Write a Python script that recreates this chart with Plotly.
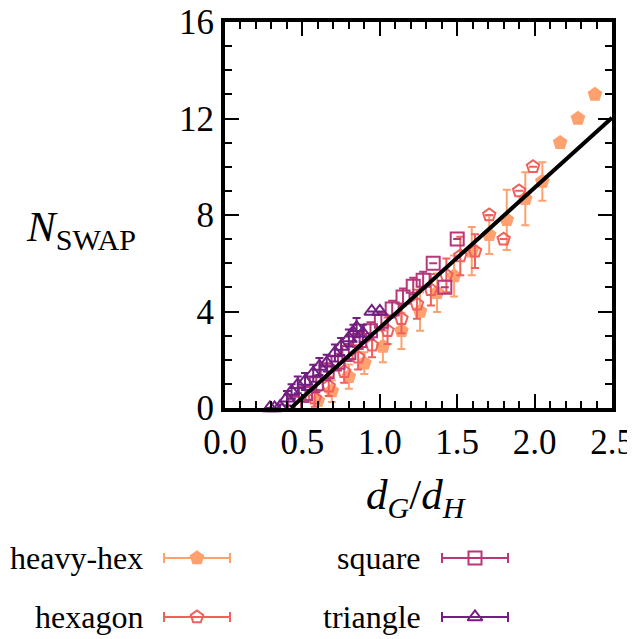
import plotly.graph_objects as go

# ---------------- data ----------------
hh_x = [0.60, 0.69, 0.80, 0.90, 1.02, 1.14, 1.26, 1.37, 1.48, 1.594, 1.707, 1.82, 1.94, 2.05, 2.165, 2.28, 2.39]
hh_y = [0.3, 0.7, 1.3, 1.86, 2.55, 3.2, 4.0, 4.78, 5.47, 6.5, 7.18, 7.8, 8.67, 9.39, 11.0, 12.0, 13.0]
hh_e = [0.4, 0.45, 0.5, 0.45, 0.65, 0.75, 0.8, 0.8, 0.85, 1.0, 0.8, 1.25, 1.1, 0.8, 0.0, 0.0, 0.0]

hx_x = [0.58, 0.67, 0.77, 0.86, 0.95, 1.05, 1.14, 1.24, 1.33, 1.43, 1.52, 1.615, 1.707, 1.80, 1.90, 1.99]
hx_y = [0.4, 0.9, 1.5, 2.1, 2.6, 3.2, 3.7, 4.3, 4.9, 5.5, 6.3, 6.5, 8.0, 7.0, 9.0, 10.0]
hx_e = [0.35, 0.4, 0.45, 0.5, 0.5, 0.55, 0.6, 0.6, 0.65, 0.7, 0.8, 0.7, 0.0, 0.0, 0.0, 0.0]

sq_x = [0.45, 0.52, 0.59, 0.66, 0.73, 0.80, 0.87, 0.94, 1.01, 1.08, 1.15, 1.216, 1.28, 1.345, 1.42, 1.50]
sq_y = [0.2, 0.6, 1.0, 1.5, 1.9, 2.3, 2.8, 3.2, 3.6, 4.1, 4.6, 5.05, 5.3, 6.0, 5.0, 7.0]
sq_e = [0.3, 0.35, 0.35, 0.35, 0.35, 0.35, 0.35, 0.35, 0.35, 0.35, 0.35, 0.35, 0.35, 0.0, 0.0, 0.0]

tr_x = [0.29, 0.32, 0.355, 0.40, 0.43, 0.47, 0.517, 0.57, 0.61, 0.657, 0.71, 0.75, 0.80, 0.83, 0.85, 0.89, 0.948, 1.00]
tr_y = [0.0, 0.0, 0.05, 0.4, 0.68, 0.96, 1.1, 1.44, 1.72, 1.86, 2.28, 2.55, 2.9, 3.1, 3.33, 3.1, 4.0, 4.0]
tr_e = [0.0, 0.0, 0.1, 0.3, 0.3, 0.35, 0.35, 0.35, 0.35, 0.35, 0.35, 0.35, 0.35, 0.35, 0.4, 0.35, 0.0, 0.0]

fit_x0 = 0.426      # x-intercept of the fitted line
fit_slope = 5.80    # slope of the fitted line
x_max = 2.5

x_ticks = [0.0, 0.5, 1.0, 1.5, 2.0, 2.5]
x_ticktext = ["0.0", "0.5", "1.0", "1.5", "2.0", "2.5"]
y_ticks = [0, 4, 8, 12, 16]
y_ticktext = ["0", "4", "8", "12", "16"]

names = ["heavy-hex", "hexagon", "square", "triangle"]
colors = ["#fea16e", "#f1605d", "#b73779", "#721f81"]
symbols = ["pentagon", "pentagon-open", "square-open", "triangle-up-open"]

# ---------------- figure ----------------
PAGE_W, PAGE_H = 635, 639
OFF = 8                       # default body margin of the html page
W, H = PAGE_W, PAGE_H - OFF
FONT = "Liberation Serif"


def px(x):
    return (x - OFF) / W


def py(y):
    return 1 - (y - OFF) / H


fig = go.Figure()
series = [(hh_x, hh_y, hh_e), (hx_x, hx_y, hx_e), (sq_x, sq_y, sq_e), (tr_x, tr_y, tr_e)]
for (xs, ys, es), name, col, sym in zip(series, names, colors, symbols):
    fig.add_trace(go.Scatter(
        x=xs, y=ys, mode="markers", name=name, showlegend=False, cliponaxis=False,
        error_y=dict(type="data", array=es, color=col, thickness=2, width=4),
        marker=dict(symbol=sym, size=13, color=col, line=dict(color=col, width=2)),
    ))

fig.add_trace(go.Scatter(
    x=[fit_x0, x_max], y=[0, fit_slope * (x_max - fit_x0)], mode="lines",
    line=dict(color="black", width=4), showlegend=False, cliponaxis=True,
))

# custom legend (text on the left of the sample), in page-pixel coordinates on a hidden full-figure axis
leg_rows = [558, 617]
leg_cols = [(145, 197), (423, 475)]
half_len = 33
for i, (name, col, sym) in enumerate(zip(names, colors, symbols)):
    c = i // 2
    r = i % 2
    tx, mx = leg_cols[c]
    ly = leg_rows[r]
    fig.add_trace(go.Scatter(
        x=[mx], y=[ly], mode="markers", xaxis="x2", yaxis="y2", showlegend=False,
        error_x=dict(type="constant", value=half_len, color=col, thickness=2, width=5),
        marker=dict(symbol=sym, size=13, color=col, line=dict(color=col, width=2)),
    ))
    fig.add_annotation(x=tx, y=ly, xref="x2", yref="y2", text=name, showarrow=False,
                       xanchor="right", yanchor="middle", font=dict(family=FONT, size=32, color="black"))

axis_common = dict(
    showline=True, linewidth=4, linecolor="black", mirror="allticks",
    ticks="inside", ticklen=14, tickwidth=2, tickcolor="black",
    showgrid=False, zeroline=False, automargin=False, ticklabeloverflow="allow",
    tickfont=dict(family=FONT, size=35, color="black"),
)

fig.update_layout(
    width=W, height=H, margin=dict(l=0, r=0, t=0, b=0, pad=0),
    paper_bgcolor="white", plot_bgcolor="rgba(0,0,0,0)",
    xaxis=dict(range=[0, x_max], domain=[px(225), px(612)], tickvals=x_ticks, ticktext=x_ticktext,
               anchor="y",
               minor=dict(dtick=0.1, tick0=0, ticks="inside", ticklen=7, tickwidth=2, tickcolor="black"),
               **axis_common),
    yaxis=dict(range=[0, 16], domain=[py(408), py(22)], tickvals=y_ticks, ticktext=y_ticktext,
               anchor="x",
               minor=dict(dtick=1, tick0=0, ticks="inside", ticklen=7, tickwidth=2, tickcolor="black"),
               **axis_common),
    xaxis2=dict(range=[OFF, OFF + W], domain=[0, 1], visible=False, anchor="y2", fixedrange=True, automargin=False),
    yaxis2=dict(range=[OFF + H, OFF], domain=[0, 1], visible=False, anchor="x2", fixedrange=True, automargin=False),
    showlegend=False,
)

fig.add_annotation(x=px(416), y=py(498), xref="paper", yref="paper", showarrow=False,
                   xanchor="center", yanchor="middle",
                   text="<i>d<sub>G</sub></i>/<i>d<sub>H</sub></i>",
                   font=dict(family=FONT, size=43, color="black"))
fig.add_annotation(x=px(24), y=py(230), xref="paper", yref="paper", showarrow=False,
                   xanchor="left", yanchor="middle",
                   text="<i>N</i><sub>SWAP</sub>",
                   font=dict(family=FONT, size=43, color="black"))

fig.write_html("out.html")
